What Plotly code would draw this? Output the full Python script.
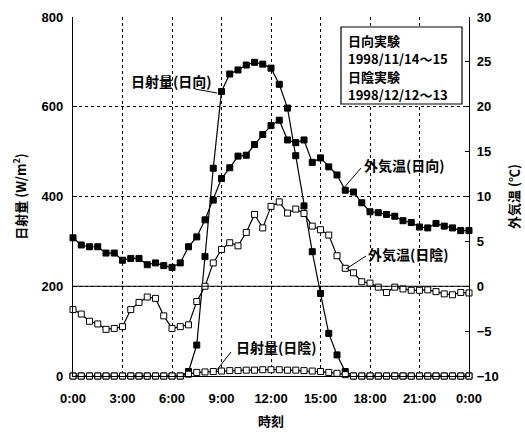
import plotly.graph_objects as go

# ---- data ----
hours = [0, 0.5, 1, 1.5, 2, 2.5, 3, 3.5, 4, 4.5, 5, 5.5, 6, 6.5, 7, 7.5, 8, 8.5,
         9, 9.5, 10, 10.5, 11, 11.5, 12, 12.5, 13, 13.5, 14, 14.5, 15, 15.5, 16,
         16.5, 17, 17.5, 18, 18.5, 19, 19.5, 20, 20.5, 21, 21.5, 22, 22.5, 23,
         23.5, 24]

solar_sun = [0, 0, 0, 0, 0, 0, 0, 0, 0, 0, 0, 0, 0, 0, 10, 69, 266, 463,
             634, 673, 682, 693, 699, 695, 686, 650, 597, 491, 379, 277, 184, 95, 47,
             10, 0, 0, 0, 0, 0, 0, 0, 0, 0, 0, 0, 0, 0,
             0, 0]

solar_shade = [0, 0, 0, 0, 0, 0, 0, 0, 0, 0, 0, 0, 0, 0, 4, 8, 9, 10,
               11, 12, 12, 13, 13, 14, 14, 14, 13, 13, 12, 11, 10, 8, 6,
               3, 0, 0, 0, 0, 0, 0, 0, 0, 0, 0, 0, 0, 0,
               0, 0]

temp_sun = [5.4, 4.6, 4.4, 4.4, 3.7, 3.7, 2.9, 3.1, 3.1, 2.4, 2.6, 2.3, 2.1, 2.6, 4.4, 5.5, 7.4, 9.6,
            12.0, 13.2, 14.5, 14.6, 15.8, 16.9, 17.9, 18.5, 16.3, 16.0, 16.3, 13.8, 14.3, 13.3, 12.4,
            10.7, 10.5, 9.3, 8.3, 8.2, 8.0, 7.8, 7.3, 7.1, 6.6, 6.5, 7.0, 6.7, 6.5,
            6.2, 6.2]

temp_shade = [-2.6, -3.1, -3.9, -4.2, -4.8, -4.7, -4.5, -2.6, -1.8, -1.2, -1.35, -3.3, -4.7, -4.5, -4.3, -1.7, 0.0, 2.6,
              4.1, 4.85, 4.5, 6.0, 8.0, 6.5, 8.9, 9.4, 8.15, 8.6, 8.1, 6.7, 6.3, 5.7, 3.4,
              2.0, 1.5, 0.5, 0.35, -0.1, -0.7, -0.1, -0.3, -0.45, -0.45, -0.4, -0.6, -0.85, -0.95,
              -0.7, -0.75]

xtick_vals = [0, 3, 6, 9, 12, 15, 18, 21, 24]
xtick_text = ["0:00", "3:00", "6:00", "9:00", "12:00", "15:00", "18:00", "21:00", "0:00"]
y1_ticks = [0, 200, 400, 600, 800]
y2_ticks = [-10, -5, 0, 5, 10, 15, 20, 25, 30]

legend_lines = ["日向実験", "1998/11/14～15", "日陰実験", "1998/12/12～13"]

# ---- layout geometry (pixels) ----
W, H = 525, 432
L, R, T, B = 73, 469, 17, 376

def px(x):
    return (x - L) / (R - L)

def py(y):
    return (B - y) / (B - T)

JP = "Noto Sans CJK JP"
NUM = "Liberation Sans"

fig = go.Figure()

MS = 6
filled = dict(symbol="square", size=MS, color="black", line=dict(color="black", width=1))
opened = dict(symbol="square", size=MS, color="white", line=dict(color="black", width=1))

fig.add_trace(go.Scatter(x=hours, y=solar_sun, mode="lines+markers", yaxis="y",
                         line=dict(color="black", width=1.2), marker=filled,
                         cliponaxis=False, showlegend=False))
fig.add_trace(go.Scatter(x=hours, y=solar_shade, mode="lines+markers", yaxis="y",
                         line=dict(color="black", width=1.2), marker=opened,
                         cliponaxis=False, showlegend=False))
fig.add_trace(go.Scatter(x=hours, y=temp_sun, mode="lines+markers", yaxis="y2",
                         line=dict(color="black", width=1.2), marker=filled,
                         cliponaxis=False, showlegend=False))
fig.add_trace(go.Scatter(x=hours, y=temp_shade, mode="lines+markers", yaxis="y2",
                         line=dict(color="black", width=1.2), marker=opened,
                         cliponaxis=False, showlegend=False))

tickfont = dict(family=NUM, size=13, color="black", weight="bold")
titlefont = dict(family=JP, size=13, color="black", weight="bold")

fig.update_layout(
    width=W, height=H,
    margin=dict(l=L, r=W - R, t=T, b=H - B, pad=0, autoexpand=False),
    paper_bgcolor="white", plot_bgcolor="white",
    xaxis=dict(range=[0, 24], tickvals=xtick_vals, ticktext=xtick_text,
               tickfont=tickfont, showgrid=True, gridcolor="black", griddash="dot",
               gridwidth=1, showline=True, linecolor="black", linewidth=1.2,
               ticks="", zeroline=False, ticklabelstandoff=10, automargin=False,
               title=dict(text="時刻", font=titlefont, standoff=12)),
    yaxis=dict(range=[0, 800], tickvals=y1_ticks, tickfont=tickfont,
               showgrid=True, gridcolor="black", griddash="dot", gridwidth=1,
               showline=True, linecolor="black", linewidth=1.2, zeroline=False,
               ticks="inside", ticklen=4, tickcolor="black", ticklabelstandoff=6,
               automargin=False,
               title=dict(text="日射量 (W/m<sup>2</sup>)", font=titlefont, standoff=12)),
    yaxis2=dict(range=[-10, 30], tickvals=y2_ticks, tickfont=tickfont,
                overlaying="y", side="right", showgrid=False,
                showline=True, linecolor="black", linewidth=1.2, zeroline=False,
                ticks="inside", ticklen=4, tickcolor="black", ticklabelstandoff=4,
                automargin=False,
                title=dict(text="外気温 (℃)", font=titlefont, standoff=12)),
)

# solid 0 ℃ / 200 W line
fig.add_shape(type="line", xref="x", yref="y", x0=0, x1=24, y0=200, y1=200,
              line=dict(color="black", width=1.2))

annfont = dict(family=JP, size=14, color="black", weight="bold")
boxfont = dict(family=JP, size=13, color="black", weight="bold")

def label(text, x_px, y_px, font=annfont):
    fig.add_annotation(x=px(x_px), y=py(y_px), xref="paper", yref="paper",
                       text=text, showarrow=False, xanchor="left", yanchor="middle",
                       font=font)

def pointer(x0, y0, x1, y1):
    fig.add_shape(type="line", xref="paper", yref="paper",
                  x0=px(x0), y0=py(y0), x1=px(x1), y1=py(y1),
                  line=dict(color="black", width=1))

label("日射量(日向)", 129, 81)
pointer(195, 89, 217, 93)
label("外気温(日向)", 362, 165)
pointer(361, 168, 342, 190)
label("外気温(日陰)", 366, 254)
pointer(366, 256, 346, 269)
label("日射量(日陰)", 234, 347)
pointer(231, 352, 216, 371)

# info box
fig.add_shape(type="rect", xref="paper", yref="paper",
              x0=px(341), x1=px(462), y0=py(104), y1=py(27),
              line=dict(color="black", width=1.2), fillcolor="white")
for i, t in enumerate(legend_lines):
    label(t, 346, 40 + 18.3 * i, font=boxfont)

fig.write_html("out.html")
